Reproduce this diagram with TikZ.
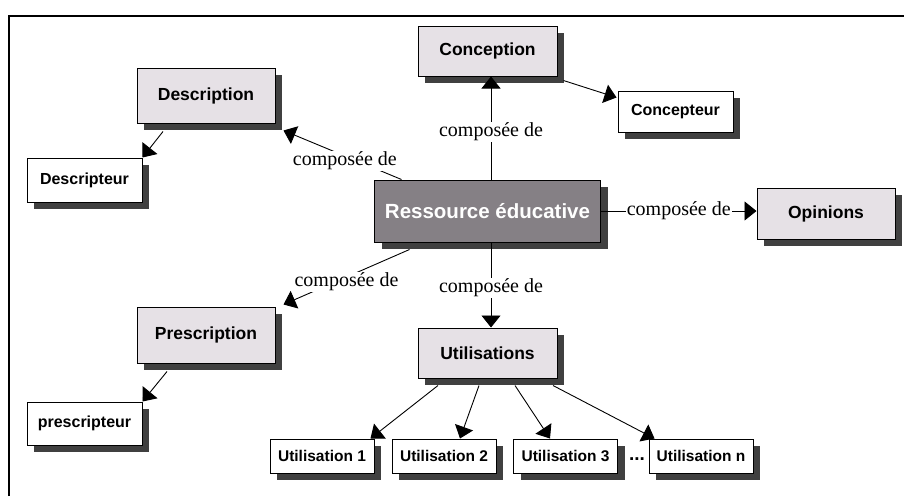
\documentclass[tikz,border=0pt]{standalone}
\usepackage{fontspec}
\setmainfont{Liberation Serif}
\setsansfont{Liberation Sans}
\usetikzlibrary{arrows.meta, shadows}

\definecolor{boxgray}{HTML}{E6E1E6}
\definecolor{resgray}{HTML}{858085}
\definecolor{shadegray}{HTML}{404040}

\tikzset{
	concept/.style = {draw, line width=1pt, fill=boxgray, inner sep=0pt,
		minimum width=138pt, minimum height=52pt,
		font=\sffamily\bfseries\fontsize{17.5}{20}\selectfont,
		drop shadow={shadow xshift=7pt, shadow yshift=-7pt, fill=shadegray, opacity=1}},
	actor/.style = {concept, fill=white, minimum width=115pt, minimum height=43pt,
		font=\sffamily\bfseries\fontsize{16}{18}\selectfont},
	usage/.style = {actor, minimum width=104pt, minimum height=34pt,
		font=\sffamily\bfseries\fontsize{15.5}{18}\selectfont},
	link/.style = {line width=0.9pt, -{Triangle[length=12pt, width=19pt]}},
	compose/.style = {fill=white, inner sep=1pt, font=\fontsize{20}{22}\selectfont}
}

\begin{document}
\begin{tikzpicture}[x=1pt, y=-1pt]
	\useasboundingbox (0,0) rectangle (904,496);
	% frame
	\draw[line width=2pt] (8.5,496) -- (8.5,15.5) -- (904,15.5);

	% concepts
	\node[concept, fill=resgray, text=white, minimum width=226pt, minimum height=62pt,
		font=\sffamily\bfseries\fontsize{20.5}{22}\selectfont] (res) at (487.5,211) {Ressource éducative};
	\node[concept, minimum height=55pt] (desc) at (206,95.5) {Description};
	\node[concept, minimum width=139pt, minimum height=50pt] (conc) at (487.5,51) {Conception};
	\node[concept, minimum height=51pt] (opin) at (826,213.5) {Opinions};
	\node[concept, minimum height=56pt] (presc) at (206,335) {Prescription};
	\node[concept, minimum width=139pt, minimum height=50pt] (util) at (487.5,353) {Utilisations};

	% actors
	\node[actor, minimum height=44pt] (descr) at (84.5,180) {Descripteur};
	\node[actor, minimum height=41pt] (concr) at (675.5,111.5) {Concepteur};
	\node[actor] (prescr) at (84.5,423.5) {prescripteur};

	% usages
	\node[usage] (u1) at (322,456) {Utilisation 1};
	\node[usage] (u2) at (444,456) {Utilisation 2};
	\node[usage] (u3) at (565.5,456) {Utilisation 3};
	\node[usage] (un) at (701,456) {Utilisation n};
	\node[font=\sffamily\bfseries\fontsize{19}{20}\selectfont] (dots) at (637,459) {...};

	% composee de
	\draw[link] ([shift={(3.5,0)}]res.north) -- node[compose, yshift=-4pt] {composée de} ([shift={(3.5,0)}]conc.south);
	\draw[link] ([shift={(3.5,0)}]res.south) -- node[compose, yshift=-3pt] {composée de} ([shift={(3.5,0)}]util.north);
	\draw[link] (res.east) -- node[compose] {composée de} (res.east -| opin.west);
	\draw[link] ([shift={(27.5,0)}]res.north west) -- node[compose, pos=0.48, yshift=-5pt] {composée de} ([shift={(8,7)}]desc.south east);
	\draw[link] ([shift={(35.5,7)}]res.south west) -- node[compose, yshift=-5pt] {composée de} ([shift={(8,-2)}]presc.north east);

	% actors and usages
	\draw[link] ([shift={(-43,8)}]desc.south) -- (descr.north east);
	\draw[link] ([shift={(6,4)}]conc.south east) -- ([shift={(-1,7)}]concr.north west);
	\draw[link] ([shift={(-39,8)}]presc.south) -- (prescr.north east);
	\draw[link] ([shift={(-49.5,7)}]util.south) -- ([shift={(-4,0)}]u1.north east);
	\draw[link] ([shift={(-8.5,7)}]util.south) -- ([shift={(16,0)}]u2.north);
	\draw[link] ([shift={(27.5,7)}]util.south) -- ([shift={(-15.5,0)}]u3.north);
	\draw[link] ([shift={(65.5,7)}]util.south) -- ([shift={(6,0)}]un.north west);
\end{tikzpicture}
\end{document}
